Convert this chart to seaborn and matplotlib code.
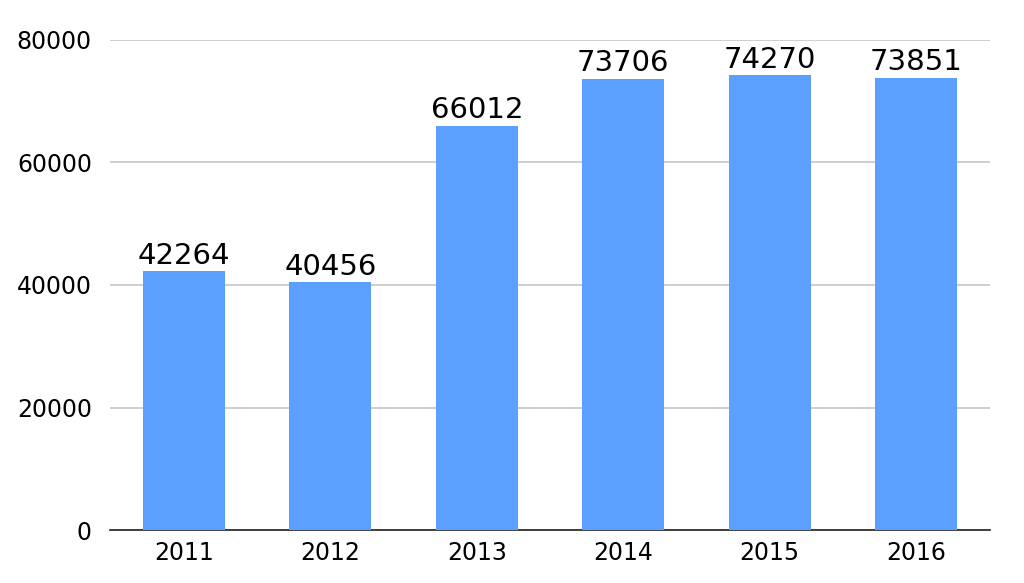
import matplotlib
matplotlib.use("Agg")
import matplotlib.pyplot as plt
import seaborn as sns
import pandas as pd

years = ["2011", "2012", "2013", "2014", "2015", "2016"]
values = [42264, 40456, 66012, 73706, 74270, 73851]

sns.set_theme(style="white")
plt.rcParams['font.family'] = ['DejaVu Sans']

df = pd.DataFrame({"year": years, "value": values})

fig = plt.figure(figsize=(10.24, 5.83), dpi=100)
ax = fig.add_axes([0.1074, 0.0909, 0.8594, 0.8405])

sns.barplot(data=df, x="year", y="value", color="#5ba0ff", saturation=1,
            width=0.56, ax=ax, zorder=3, linewidth=0, edgecolor="none")

ax.set_ylim(0, 80000)
ax.set_xlim(-0.505, 5.505)
ax.set_yticks([0, 20000, 40000, 60000, 80000])
ax.yaxis.grid(True, color="#c6c6c6", linewidth=1.2, zorder=0)
ax.set_axisbelow(True)
for s in ["top", "right", "left"]:
    ax.spines[s].set_visible(False)
ax.spines["bottom"].set_color("#222222")
ax.spines["bottom"].set_linewidth(1.2)
ax.set_xlabel("")
ax.set_ylabel("")
ax.tick_params(axis="both", length=0, labelsize=17, colors="black")
ax.tick_params(axis="y", pad=13)
ax.tick_params(axis="x", pad=8)

for c in ax.containers:
    ax.bar_label(c, labels=[str(v) for v in values], fontsize=21, padding=1, color="black")

fig.savefig("out.png", dpi=100, facecolor="white")
